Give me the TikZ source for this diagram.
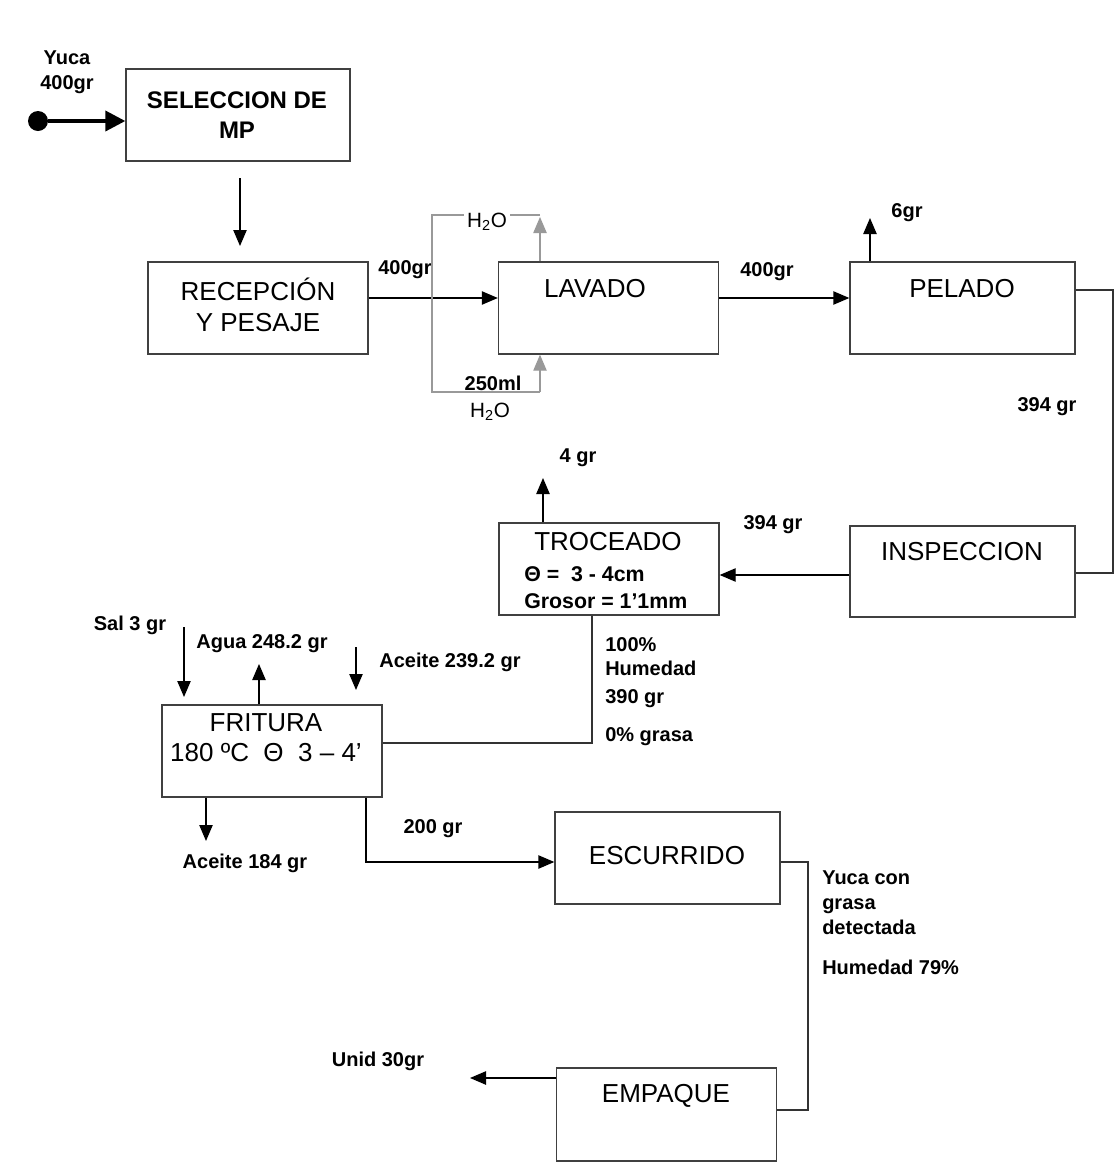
\documentclass[tikz,border=0pt]{standalone}
\usepackage{fontspec}
\setmainfont{Liberation Sans}
\usetikzlibrary{arrows.meta}
\begin{document}
\begin{tikzpicture}[x=0.75pt,y=-0.75pt,
  box/.style={draw=black!75, line width=1pt, minimum height=69pt, minimum width=165pt, inner sep=0pt},
  wbox/.style={box, minimum width=168.75pt},
  arr/.style={line width=1pt, -{Triangle[length=12pt,width=10pt]}},
  ln/.style={line width=1pt, black!80},
  wl/.style={line width=0.9pt, draw=black!40},
  warr/.style={wl, -{Triangle[length=12pt,width=10pt]}, black!40},
  lab/.style={font=\bfseries\fontsize{15}{18}\selectfont, inner sep=0pt},
  nlab/.style={font=\fontsize{15.5}{18}\selectfont, inner sep=0pt},
  btxt/.style={font=\fontsize{19.5}{23}\selectfont, inner sep=0pt},
  bbtxt/.style={font=\bfseries\fontsize{16}{20}\selectfont, inner sep=0pt},
]
\fill[white] (0,0) rectangle (1117,1165);
\useasboundingbox (0,0) rectangle (1117,1165);

% boxes
\node[box, minimum width=168pt] (sel) at (238,115) {};
\node[box] (rec) at (258,308) {};
\node[box] (lav) at (608.5,308) {};
\node[wbox] (pel) at (962.5,308) {};
\node[wbox, minimum height=68.25pt] (ins) at (962.5,571.5) {};
\node[box] (tro) at (609,569) {};
\node[box] (fri) at (272,751) {};
\node[wbox] (esc) at (667.5,858) {};
\node[box, minimum height=69.75pt] (emp) at (666.5,1114.5) {};

% box texts
\node[font=\bfseries\fontsize{18}{22.5}\selectfont, inner sep=0pt, align=center] (selt) at (237,115) {SELECCION DE\\MP};
\node[btxt, align=center] (rect) at (258,305) {RECEPCIÓN\\Y PESAJE};
\node[btxt] (lavt) at (595,289) {LAVADO};
\node[btxt] (pelt) at (962,289) {PELADO};
\node[btxt] (inst) at (962,552) {INSPECCION};
\node[btxt] (trot) at (608,542) {TROCEADO};
\node[bbtxt, anchor=west] (trot2) at (524,574) {Θ =\ \ 3 - 4cm};
\node[bbtxt, anchor=west] (trot3) at (524,601) {Grosor = 1'1mm};
\node[btxt] (frit) at (266,723) {FRITURA};
\node[btxt] (frit2) at (266,753) {180 ºC\ \ Θ\ \ 3 – 4'};
\node[btxt] (esct) at (667,856) {ESCURRIDO};
\node[btxt] (empt) at (666,1096) {EMPAQUE};

% input
\node[circle, fill=black, minimum size=15pt, inner sep=0pt] (dot) at (38,121) {};
\draw[line width=2.8pt, -{Triangle[length=15pt,width=15pt]}] (dot) -- (dot -| sel.west);
\node[lab, align=center] (yuca) at (67,72) {Yuca\\[1pt]400gr};

% sel -> rec
\coordinate (s1) at (240,178);
\coordinate (s2) at (240,246);
\draw[arr] (s1) -- (s2);

% rec -> lav
\draw[arr] (rec.east |- 0,298) -- (lav.west |- 0,298);
\node[lab] (l400a) at (405,270) {400gr};

% water loop
\coordinate (wt) at (540,215);
\coordinate (wtl) at (432,215);
\coordinate (wbl) at (432,392);
\coordinate (wb) at (540,392);
\draw[wl] (wt) -- (wtl) -- (wbl) -- (wb);
\draw[warr] (lav.north -| wt) -- ([yshift=-1.5pt]wt);
\draw[warr] (wb) -- (lav.south -| wb);
\node[nlab, fill=white, inner xsep=2pt] (h2oa) at (487,222) {H\textsubscript{2}O};
\node[lab, fill=white, inner xsep=2pt] (ml) at (493,383) {250ml};
\node[nlab] (h2ob) at (490,412) {H\textsubscript{2}O};

% lav -> pel
\draw[arr] (lav.east |- 0,298) -- (pel.west |- 0,298);
\node[lab] (l400b) at (767,272) {400gr};

% pel up
\coordinate (p6) at (870,218);
\draw[arr] (pel.north -| p6) -- (p6);
\node[lab] (l6) at (907,213) {6gr};

% pel -> ins
\draw[ln] (pel.east |- 0,290) -- (1113,290) -- (1113,573) -- (ins.east |- 0,573);
\node[lab] (l394a) at (1047,407) {394 gr};

% ins -> tro
\draw[arr] (ins.west |- 0,575) -- (tro.east |- 0,575);
\node[lab] (l394b) at (773,525) {394 gr};

% tro up
\coordinate (t4) at (543,478);
\draw[arr] (tro.north -| t4) -- (t4);
\node[lab] (l4) at (578,458) {4 gr};

% tro -> fri
\draw[ln] (tro.south -| 592,0) -- (592,743) -- (fri.east |- 0,743);
\node[lab, anchor=base west] (h1) at (605,651) {100\%};
\node[lab, anchor=base west] (h2) at (605,675) {Humedad};
\node[lab, anchor=base west] (h3) at (605,703) {390 gr};
\node[lab, anchor=base west] (h4) at (605,741) {0\% grasa};

% fritura inputs/outputs
\coordinate (sa1) at (184,627);
\coordinate (sa2) at (184,697);
\draw[arr] (sa1) -- (sa2);
\node[lab] (lsal) at (130,625) {Sal 3 gr};
\coordinate (ag) at (259,664);
\draw[arr] (fri.north -| ag) -- (ag);
\node[lab] (lag) at (262,644) {Agua 248.2 gr};
\coordinate (ac1) at (356,647);
\coordinate (ac2) at (356,690);
\draw[arr] (ac1) -- (ac2);
\node[lab] (lac) at (450,662) {Aceite 239.2 gr};
\coordinate (ao) at (206,841);
\draw[arr] (fri.south -| ao) -- (ao);
\node[lab] (lao) at (245,863) {Aceite 184 gr};

% fri -> esc
\draw[arr] (fri.south -| 366,0) -- (366,862) -- (esc.west |- 0,862);
\node[lab] (l200) at (433,829) {200 gr};

% esc -> emp
\draw[ln] (esc.east |- 0,862) -- (808,862) -- (808,1110) -- (emp.east |- 0,1110);
\node[lab, anchor=base west] (y1) at (822,884) {Yuca con};
\node[lab, anchor=base west] (y2) at (822,909) {grasa};
\node[lab, anchor=base west] (y3) at (822,934) {detectada};
\node[lab, anchor=base west] (y4) at (822,974) {Humedad 79\%};

% emp out
\coordinate (eo) at (470,1078);
\draw[arr] (emp.west |- eo) -- (eo);
\node[lab] (lun) at (378,1061) {Unid 30gr};
\end{tikzpicture}
\end{document}
